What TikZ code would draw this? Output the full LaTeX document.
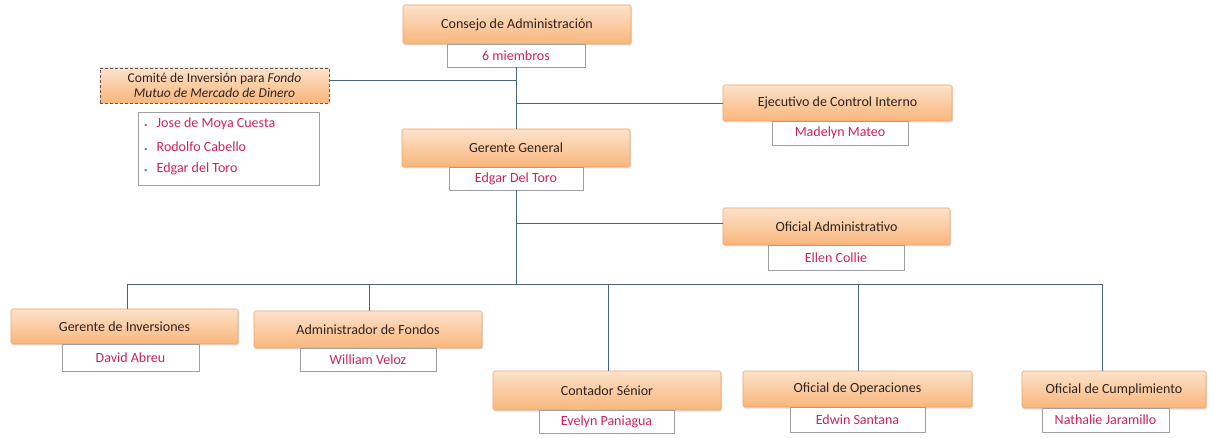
\documentclass[tikz,border=0pt]{standalone}
\usepackage{fontspec}
\setmainfont{Carlito}
\usetikzlibrary{shadows}
\definecolor{orgtop}{RGB}{253,226,202}
\definecolor{orgbot}{RGB}{249,182,124}
\definecolor{orgborder}{RGB}{238,165,105}
\definecolor{roletext}{RGB}{45,35,30}
\definecolor{nametext}{RGB}{205,35,95}
\definecolor{linkcol}{RGB}{75,100,125}
\definecolor{boxgray}{RGB}{160,160,160}
\tikzset{
  role/.style={draw=orgborder, line width=0.6pt, top color=orgtop, bottom color=orgbot,
    rounded corners=1.5pt, inner sep=0pt, text=roletext, font=\fontsize{14}{16}\selectfont,
    drop shadow={shadow xshift=1.2pt, shadow yshift=-1.5pt, opacity=0.25}},
  person/.style={draw=boxgray, line width=0.6pt, fill=white, inner sep=0pt, text=nametext,
    font=\fontsize{14}{16}\selectfont,
    drop shadow={shadow xshift=1pt, shadow yshift=-1pt, opacity=0.15}},
  listitem/.style={anchor=west, inner sep=0pt, text=nametext, font=\fontsize{14}{16}\selectfont},
  link/.style={draw=linkcol, line width=0.8pt},
}
\begin{document}
\begin{tikzpicture}[x=1pt,y=-1pt]
\useasboundingbox (0,0) rectangle (1213,438);
% top
\node[role, minimum width=228pt, minimum height=39pt] (consejo) at (517,24.5) {Consejo de Administración};
\node[person, minimum width=138pt, minimum height=23pt] (consejoN) at (516,55.5) {6 miembros};
% comite
\node[role, draw=black!65, densely dashed, rounded corners=0pt, minimum width=229pt, minimum height=35pt, align=center, font=\fontsize{13.5}{15}\selectfont] (comite) at (214.5,85.5) {Comité de Inversión para \textit{Fondo}\\\textit{Mutuo de Mercado de Dinero}};
\node[person, anchor=north west, minimum width=181pt, minimum height=73pt] (comiteL) at (138,112) {};
\node[listitem] (m1) at (144,124) {{\color{gray}\scriptsize•}\hspace{9pt}Jose de Moya Cuesta};
\node[listitem] (m2) at (144,147) {{\color{gray}\scriptsize•}\hspace{9pt}Rodolfo Cabello};
\node[listitem] (m3) at (144,169) {{\color{gray}\scriptsize•}\hspace{9pt}Edgar del Toro};
% ejecutivo
\node[role, minimum width=229pt, minimum height=36pt] (ejec) at (837.5,103) {Ejecutivo de Control Interno};
\node[person, minimum width=136pt, minimum height=24pt] (ejecN) at (840,133) {Madelyn Mateo};
% gerente
\node[role, minimum width=228pt, minimum height=38pt] (gerente) at (516,148) {Gerente General};
\node[person, minimum width=134pt, minimum height=23pt] (gerenteN) at (516,178.5) {Edgar Del Toro};
% admin
\node[role, minimum width=227pt, minimum height=37pt] (admin) at (836.5,226.5) {Oficial Administrativo};
\node[person, minimum width=136pt, minimum height=25pt] (adminN) at (836,257.5) {Ellen Collie};
% bottom row
\node[role, minimum width=227pt, minimum height=35pt] (ginv) at (124.5,326.5) {Gerente de Inversiones};
\node[person, minimum width=137pt, minimum height=27pt] (ginvN) at (130.5,357.5) {David Abreu};
\node[role, minimum width=228pt, minimum height=37pt] (afon) at (368,329.5) {Administrador de Fondos};
\node[person, minimum width=136pt, minimum height=23pt] (afonN) at (368,359.5) {William Veloz};
\node[role, minimum width=228pt, minimum height=39pt] (cont) at (607,390.5) {Contador Sénior};
\node[person, minimum width=135pt, minimum height=23pt] (contN) at (606.5,421.5) {Evelyn Paniagua};
\node[role, minimum width=229pt, minimum height=36pt] (oper) at (857.5,389) {Oficial de Operaciones};
\node[person, minimum width=135pt, minimum height=25pt] (operN) at (857.5,419.5) {Edwin Santana};
\node[role, minimum width=184pt, minimum height=37pt] (cump) at (1114,389.5) {Oficial de Cumplimiento};
\node[person, minimum width=127pt, minimum height=24pt] (cumpN) at (1105.5,420) {Nathalie Jaramillo};
% connector coordinates
\coordinate (jc) at (516,80);
\coordinate (je) at (516,103);
\coordinate (ja) at (516,223);
\coordinate (bus) at (516,284);
\coordinate (d1) at (127,284);
\coordinate (d2) at (369,284);
\coordinate (d3) at (608,284);
\coordinate (d4) at (858,284);
\coordinate (d5) at (1102,284);
% connectors
\draw[link] (consejoN.south) -- (consejoN.south |- gerente.north);
\draw[link] (jc) -- (comite.east |- jc);
\draw[link] (je) -- (ejec.west);
\draw[link] (gerenteN.south) -- (bus);
\draw[link] (ja) -- (admin.west |- ja);
\draw[link] (d1) -- (d5);
\draw[link] (d1) -- (d1 |- ginv.north);
\draw[link] (d2) -- (d2 |- afon.north);
\draw[link] (d3) -- (d3 |- cont.north);
\draw[link] (d4) -- (d4 |- oper.north);
\draw[link] (d5) -- (d5 |- cump.north);
\end{tikzpicture}
\end{document}
